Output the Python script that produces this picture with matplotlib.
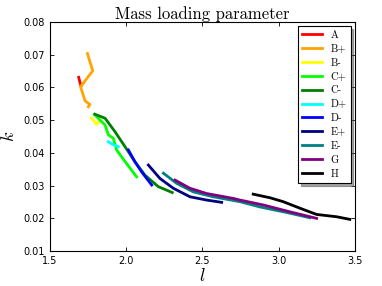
import matplotlib
matplotlib.use("Agg")
import matplotlib.pyplot as plt

plt.rcParams['mathtext.fontset'] = 'cm'
plt.rcParams['xtick.direction'] = 'in'
plt.rcParams['ytick.direction'] = 'in'
plt.rcParams['xtick.top'] = True
plt.rcParams['ytick.right'] = True

# series: (l, k) pairs
A_l = [1.688, 1.695, 1.703]
A_k = [0.0631, 0.0618, 0.0605]
Bp_l = [1.745, 1.780, 1.700, 1.730, 1.762, 1.751]
Bp_k = [0.0704, 0.0651, 0.0602, 0.0559, 0.0548, 0.0541]
Bm_l = [1.773, 1.806, 1.828]
Bm_k = [0.0506, 0.0487, 0.0500]
Cp_l = [1.790, 1.861, 1.883, 1.915, 1.937, 1.985, 2.068]
Cp_k = [0.0518, 0.0485, 0.0455, 0.0445, 0.0409, 0.0378, 0.0327]
Cm_l = [1.795, 1.861, 1.926, 1.992, 2.057, 2.123, 2.210, 2.302]
Cm_k = [0.0518, 0.0506, 0.0465, 0.0419, 0.0373, 0.0332, 0.0297, 0.0279]
Dp_l = [1.882, 1.915, 1.948]
Dp_k = [0.0434, 0.0425, 0.0419]
Dm_l = [2.014, 2.057, 2.101, 2.167]
Dm_k = [0.0409, 0.0373, 0.0342, 0.0302]
Ep_l = [2.145, 2.221, 2.309, 2.418, 2.527, 2.626]
Ep_k = [0.0363, 0.0322, 0.0292, 0.0266, 0.0256, 0.0249]
Em_l = [2.244, 2.331, 2.440, 2.571, 2.746, 2.877, 3.052, 3.205]
Em_k = [0.0338, 0.0307, 0.0281, 0.0266, 0.0251, 0.0235, 0.0218, 0.0202]
G_l = [2.320, 2.418, 2.527, 2.702, 2.746, 2.899, 3.074, 3.249]
G_k = [0.0317, 0.0292, 0.0276, 0.0261, 0.0256, 0.0241, 0.0220, 0.0200]
H_l = [2.833, 2.943, 3.030, 3.140, 3.249, 3.380, 3.467]
H_k = [0.0274, 0.0263, 0.0251, 0.0231, 0.0212, 0.0205, 0.0197]

names = ["A", "B+", "B-", "C+", "C-", "D+", "D-", "E+", "E-", "G", "H"]
colors = ["red", "orange", "yellow", "lime", "green", "cyan", "blue",
          "navy", "teal", "purple", "black"]
series = [(A_l, A_k), (Bp_l, Bp_k), (Bm_l, Bm_k), (Cp_l, Cp_k), (Cm_l, Cm_k),
          (Dp_l, Dp_k), (Dm_l, Dm_k), (Ep_l, Ep_k), (Em_l, Em_k),
          (G_l, G_k), (H_l, H_k)]

fig = plt.figure(figsize=(3.82, 2.86), dpi=100)
ax = fig.add_axes([0.131, 0.122, 0.798, 0.801])

for (l, k), name, c in zip(series, names, colors):
    ax.plot(l, k, color=c, lw=2, label=name)

ax.set_xlim(1.5, 3.5)
ax.set_ylim(0.01, 0.08)
ax.set_xticks([1.5, 2.0, 2.5, 3.0, 3.5])
ax.set_yticks([0.01, 0.02, 0.03, 0.04, 0.05, 0.06, 0.07, 0.08])
ax.tick_params(labelsize=7, length=3, width=0.6)
for s in ax.spines.values():
    s.set_linewidth(0.8)

ax.set_title("Mass loading parameter", fontsize=12, family="cmr10", pad=2)
ax.set_xlabel(r"$l$", fontsize=13, labelpad=1)
ax.set_ylabel(r"$k$", fontsize=13, labelpad=4)

leg = ax.legend(loc="upper right", prop={"family": "cmr10", "size": 7.5},
                fancybox=False, shadow=True, framealpha=1,
                handlelength=1.9, labelspacing=0.42, borderaxespad=0.4)
leg.get_frame().set_edgecolor("black")
leg.get_frame().set_linewidth(0.8)

plt.savefig("out.png", dpi=100)
plt.close()
